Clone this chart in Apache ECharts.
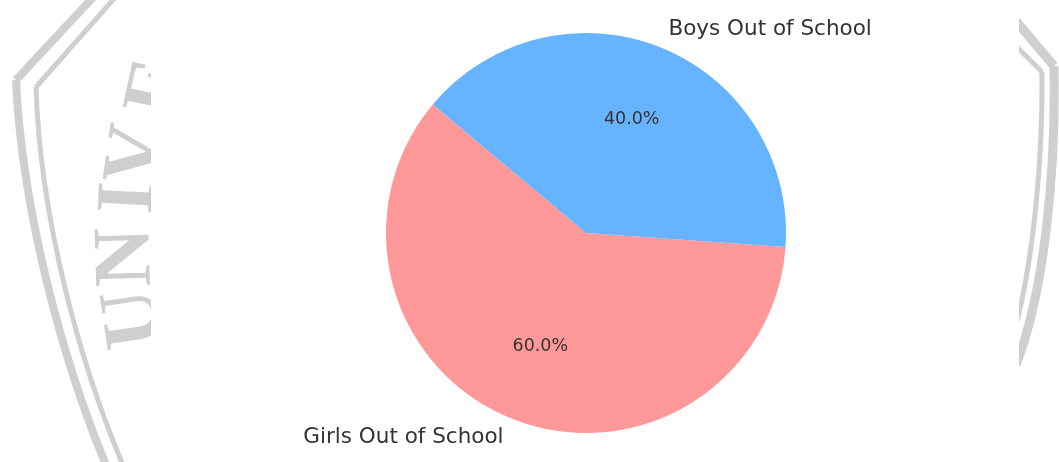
<!DOCTYPE html>
<html>
<head>
<meta charset="utf-8">
<script src="https://cdn.jsdelivr.net/npm/echarts@6/dist/echarts.min.js"></script>
<style>html,body{margin:0;padding:0;background:#fff;}#c{width:1059px;height:462px;}</style>
</head>
<body>
<div id="c"></div>
<script>
const categories = ['Girls Out of School', 'Boys Out of School'];
const values = [60, 40];
const colors = ['#ff9999', '#66b3ff'];

const chart = echarts.init(document.getElementById('c'), null, {renderer: 'canvas'});
const data = categories.map((n, i) => ({name: n, value: values[i], itemStyle: {color: colors[i]}}));
const wm = '#cfcfcf';
const font = "'DejaVu Sans', sans-serif";

// decorative watermark (background of the source image)
const letters = [
  {t: 'U', x: 136, y: 318, r: 1.72},
  {t: 'N', x: 128, y: 257, r: 1.60},
  {t: 'I', x: 131, y: 198, r: 1.52},
  {t: 'V', x: 139, y: 155, r: 1.43},
  {t: 'E', x: 160, y: 88, r: 1.36}
];
const curves = [
  {s: [[98, -8], [16, 80]], c: {x1: 16, y1: 80, cpx1: 22, cpy1: 210, cpx2: 62, cpy2: 360, x2: 108, y2: 470}, w: 8},
  {s: [[120, -8], [36, 87]], c: {x1: 36, y1: 87, cpx1: 40, cpy1: 215, cpx2: 78, cpy2: 360, x2: 125, y2: 470}, w: 5},
  {s: [[1010, 14], [1054, 66]], c: {x1: 1054, y1: 66, cpx1: 1056, cpy1: 170, cpx2: 1045, cpy2: 290, x2: 1016, y2: 365}, w: 9},
  {s: [[1010, 40], [1042, 72]], c: {x1: 1042, y1: 72, cpx1: 1043, cpy1: 160, cpx2: 1033, cpy2: 260, x2: 1016, y2: 325}, w: 5}
];
const graphic = curves.map(b => ({
  type: 'bezierCurve', z: -10, shape: b.c,
  style: {stroke: wm, lineWidth: b.w, fill: null}
})).concat(curves.map(b => ({
  type: 'polyline', z: -10, shape: {points: b.s},
  style: {stroke: wm, lineWidth: b.w, fill: null, lineJoin: 'miter'}
}))).concat(letters.map(l => ({
  type: 'text', z: -10, x: l.x, y: l.y, rotation: l.r,
  style: {text: l.t, font: "bold 82px 'Liberation Serif', serif", fill: wm, align: 'center', verticalAlign: 'middle'}
}))).concat([
  {type: 'rect', z: -5, shape: {x: 151, y: 0, width: 868, height: 462}, style: {fill: '#ffffff'}}
]);

chart.setOption({
  animation: false,
  backgroundColor: '#ffffff',
  graphic: graphic,
  series: [
    {
      type: 'pie',
      center: [586, 233],
      radius: [0, 200],
      startAngle: 140,
      clockwise: false,
      avoidLabelOverlap: false,
      silent: true,
      data: data,
      label: {
        show: true, position: 'outside', formatter: '{b}',
        fontSize: 21.5, color: '#333333', fontFamily: font,
        distanceToLabelLine: 0
      },
      labelLine: {show: false, length: 20, length2: 0},
      emphasis: {disabled: true}
    },
    {
      type: 'pie',
      center: [586, 233],
      radius: [38, 200],
      startAngle: 140,
      clockwise: false,
      avoidLabelOverlap: false,
      silent: true,
      data: categories.map((n, i) => ({name: n, value: values[i]})),
      itemStyle: {color: 'rgba(0,0,0,0)'},
      label: {
        show: true, position: 'inside',
        formatter: p => p.percent.toFixed(1) + '%',
        fontSize: 17.5, color: '#333333', fontFamily: font
      },
      labelLine: {show: false},
      emphasis: {disabled: true}
    }
  ]
});
</script>
</body>
</html>
